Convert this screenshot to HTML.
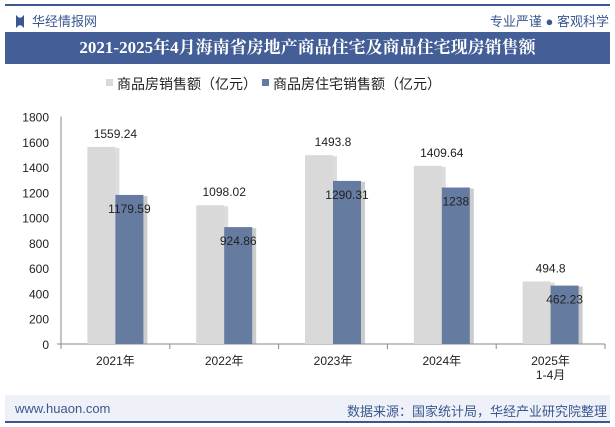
<!DOCTYPE html>
<html><head><meta charset="utf-8"><style>
body{margin:0;width:615px;height:427px;background:#fff;font-family:"Liberation Sans","Noto Sans CJK SC",sans-serif;overflow:hidden;position:relative}
.abs{position:absolute}
</style></head><body>
<div class="abs" style="left:5px;top:4px;width:605px;height:2px;background:#3b5791"></div>
<div class="abs" style="left:16px;top:11px;font-size:13px;color:#3b5791"><span style="display:inline-block;width:8px;height:13px;background:#3b5791;vertical-align:-2px;margin-right:8px;clip-path:polygon(0 0,35% 20%,65% 20%,100% 0,100% 100%,65% 80%,35% 80%,0 100%)"></span>华经情报网</div>
<div class="abs" style="right:6px;top:11px;font-size:13px;color:#3b5791">专业严谨 ● 客观科学</div>
<div class="abs" style="left:5px;top:32px;width:605px;height:32px;background:#445f97;color:#fff;font-family:'Liberation Serif','Noto Serif CJK SC',serif;font-weight:bold;font-size:17px;line-height:32px;text-align:center">2021-2025年4月海南省房地产商品住宅及商品住宅现房销售额</div>
<div class="abs" style="left:5px;top:395px;width:605px;height:27px;background:#eef1f7"></div>
<div class="abs" style="left:5px;top:421px;width:605px;height:2px;background:#3b5791"></div>
<div class="abs" style="left:15px;top:401px;font-size:13px;color:#3b5791">www.huaon.com</div>
<div class="abs" style="right:8px;top:401px;font-size:13px;color:#3b5791">数据来源：国家统计局，华经产业研究院整理</div>
<svg class="abs" style="left:0;top:0" width="615" height="427">
<g font-size="14" fill="#222">
<rect x="106" y="79" width="7" height="7" fill="#d9d9d9"/><text x="117" y="89">商品房销售额（亿元）</text>
<rect x="262" y="79" width="7" height="7" fill="#667ba0"/><text x="273" y="89">商品房住宅销售额（亿元）</text>
</g>
<g id="axes"></g><g id="bars"></g>
</svg>
<script>
const categories=["2021年","2022年","2023年","2024年","2025年|1-4月"];
const totalSales=[1559.24,1098.02,1493.8,1409.64,494.8];
const residentialSales=[1179.59,924.86,1290.31,1238,462.23];
const yTicks=[0,200,400,600,800,1000,1200,1400,1600,1800];
const NS="http://www.w3.org/2000/svg";
const x0=61,x1=605,yb=344,yt=116.5,ymax=1800;
const y=v=>yb-(v/ymax)*(yb-yt);
const bw=(x1-x0)/categories.length;
const cx=i=>x0+bw*(i+0.5);
function mk(t,a,p){const e=document.createElementNS(NS,t);for(const k in a)e.setAttribute(k,a[k]);p.appendChild(e);return e;}
const ax=document.getElementById('axes'),bars=document.getElementById('bars');
yTicks.forEach(v=>{const t=mk('text',{x:49,y:y(v)+5,'text-anchor':'end','font-size':12,fill:'#222'},ax);t.textContent=v;

});
mk('line',{x1:x0,y1:yt,x2:x0,y2:yb,stroke:'#888'},ax);
mk('line',{x1:x0-4,y1:yb,x2:x1,y2:yb,stroke:'#888'},ax);
for(let i=0;i<=categories.length;i++)mk('line',{x1:x0+bw*i,y1:yb,x2:x0+bw*i,y2:yb+5,stroke:'#888'},ax);
categories.forEach((c,i)=>{c.split('|').forEach((s,j)=>{const t=mk('text',{x:cx(i),y:365+j*14,'text-anchor':'middle','font-size':12,fill:'#222'},ax);t.textContent=s;

});});
const w=28;
categories.forEach((c,i)=>{
 const g=cx(i);
 mk('rect',{x:g-w+2,y:y(totalSales[i])+1,width:w+2,height:yb-y(totalSales[i])-1,fill:'#bbb',opacity:.5},bars);
 const r1=mk('rect',{x:g-w,y:y(totalSales[i]),width:w,height:yb-y(totalSales[i]),fill:'#d9d9d9'},bars);
 
 
 mk('rect',{x:g+2,y:y(residentialSales[i])+1,width:w+2,height:yb-y(residentialSales[i])-1,fill:'#999',opacity:.5},bars);
 const r2=mk('rect',{x:g,y:y(residentialSales[i]),width:w,height:yb-y(residentialSales[i]),fill:'#667ba0'},bars);
 
 
 const l1=mk('text',{x:g,y:y(totalSales[i])-9,'text-anchor':'middle','font-size':12,fill:'#222'},bars);l1.textContent=totalSales[i];
 
 
 const l2=mk('text',{x:g+w/2,y:y(residentialSales[i])+18,'text-anchor':'middle','font-size':12,fill:'#222'},bars);l2.textContent=residentialSales[i];
 
 
});
</script>
</body></html>
